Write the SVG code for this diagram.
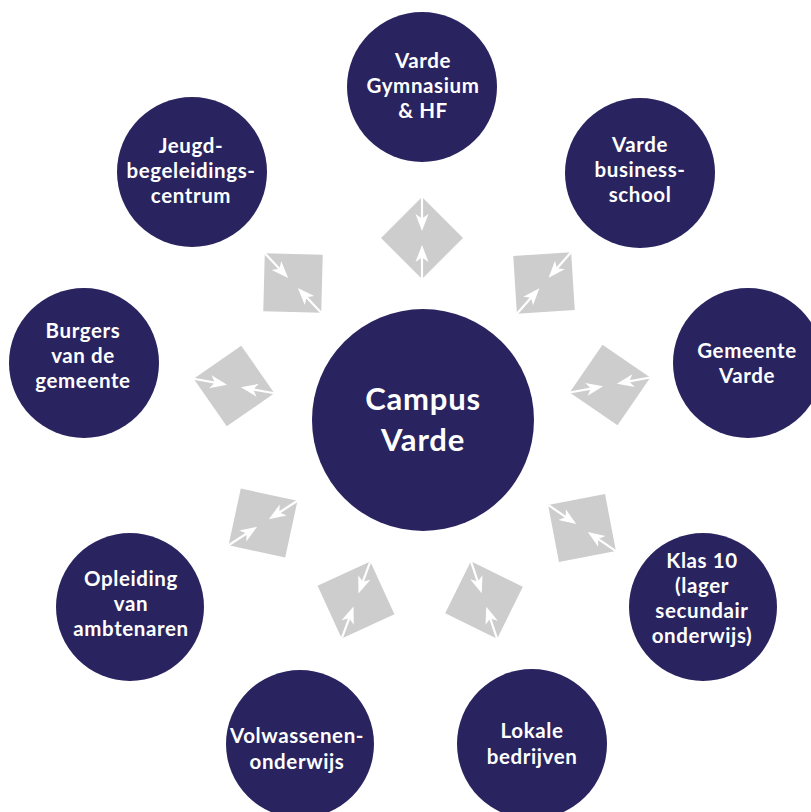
<svg xmlns="http://www.w3.org/2000/svg" xmlns:xlink="http://www.w3.org/1999/xlink" width="811" height="812" viewBox="0 0 811 812">
<style>
.node circle { fill: #29245f; }
.node text { fill: #ffffff; font-family: Lato, "Open Sans", "Liberation Sans", sans-serif; font-weight: 700; font-size: 20.5px; letter-spacing: 0.6px; text-anchor: middle; }
#campus text { font-size: 31px; letter-spacing: 0.8px; }
.sq { fill: #cdcdcd; }
.al { stroke: #ffffff; stroke-width: 2.2; fill: none; }
.ah { fill: #ffffff; }
</style>
<defs>
  <g id="link">
    <polygon class="sq" points="0,-41 41,0 0,41 -41,0"/>
    <path class="al" d="M0,-41 V-18"/>
    <path class="ah" d="M0,-7 L-6.5,-24 L0,-19.5 L6.5,-24 Z"/>
    <path class="al" d="M0,41 V18"/>
    <path class="ah" d="M0,7 L-6.5,24 L0,19.5 L6.5,24 Z"/>
  </g>
</defs>
<rect width="811" height="812" fill="#ffffff"/>
<g id="connectors">
  <use xlink:href="#link" href="#link" transform="translate(422,238) rotate(0)"/>
  <use xlink:href="#link" href="#link" transform="translate(293,283) rotate(-43.5)"/>
  <use xlink:href="#link" href="#link" transform="translate(544,283) rotate(41.4)"/>
  <use xlink:href="#link" href="#link" transform="translate(234,386) rotate(-79.8)"/>
  <use xlink:href="#link" href="#link" transform="translate(610,385) rotate(79.4)"/>
  <use xlink:href="#link" href="#link" transform="translate(582,528) rotate(124.2)"/>
  <use xlink:href="#link" href="#link" transform="translate(484,600) rotate(161.3)"/>
  <use xlink:href="#link" href="#link" transform="translate(356,600) rotate(-159.6)"/>
  <use xlink:href="#link" href="#link" transform="translate(263,523) rotate(-122.8)"/>
</g>
<g id="campus" class="node">
  <circle cx="423" cy="420" r="111"/>
  <text x="423" y="410">Campus<tspan x="423" y="451">Varde</tspan></text>
</g>
<g id="gymnasium" class="node">
  <circle cx="422" cy="87" r="75"/>
  <text x="423" y="68">Varde<tspan x="423" y="93">Gymnasium</tspan><tspan x="423" y="118">&amp; HF</tspan></text>
</g>
<g id="businessschool" class="node">
  <circle cx="640" cy="173" r="75"/>
  <text x="640" y="152">Varde<tspan x="640" y="177">business-</tspan><tspan x="640" y="202">school</tspan></text>
</g>
<g id="jeugd" class="node">
  <circle cx="192" cy="172" r="75"/>
  <text x="191" y="153">Jeugd-<tspan x="191" y="178">begeleidings-</tspan><tspan x="191" y="203">centrum</tspan></text>
</g>
<g id="burgers" class="node">
  <circle cx="84" cy="363" r="75"/>
  <text x="83" y="338">Burgers<tspan x="83" y="363">van de</tspan><tspan x="83" y="388">gemeente</tspan></text>
</g>
<g id="gemeente" class="node">
  <circle cx="748" cy="363" r="75"/>
  <text x="747" y="358">Gemeente<tspan x="747" y="383">Varde</tspan></text>
</g>
<g id="klas10" class="node">
  <circle cx="703" cy="607" r="74"/>
  <text x="702" y="568">Klas 10<tspan x="702" y="593">(lager</tspan><tspan x="702" y="618">secundair</tspan><tspan x="702" y="643">onderwijs)</tspan></text>
</g>
<g id="lokale" class="node">
  <circle cx="532" cy="744" r="75"/>
  <text x="532" y="738">Lokale<tspan x="532" y="764">bedrijven</tspan></text>
</g>
<g id="volwassenen" class="node">
  <circle cx="300" cy="744" r="74"/>
  <text x="297" y="743">Volwassenen-<tspan x="297" y="769">onderwijs</tspan></text>
</g>
<g id="opleiding" class="node">
  <circle cx="130" cy="607" r="74"/>
  <text x="131" y="586">Opleiding<tspan x="131" y="611">van</tspan><tspan x="131" y="636">ambtenaren</tspan></text>
</g>
</svg>
